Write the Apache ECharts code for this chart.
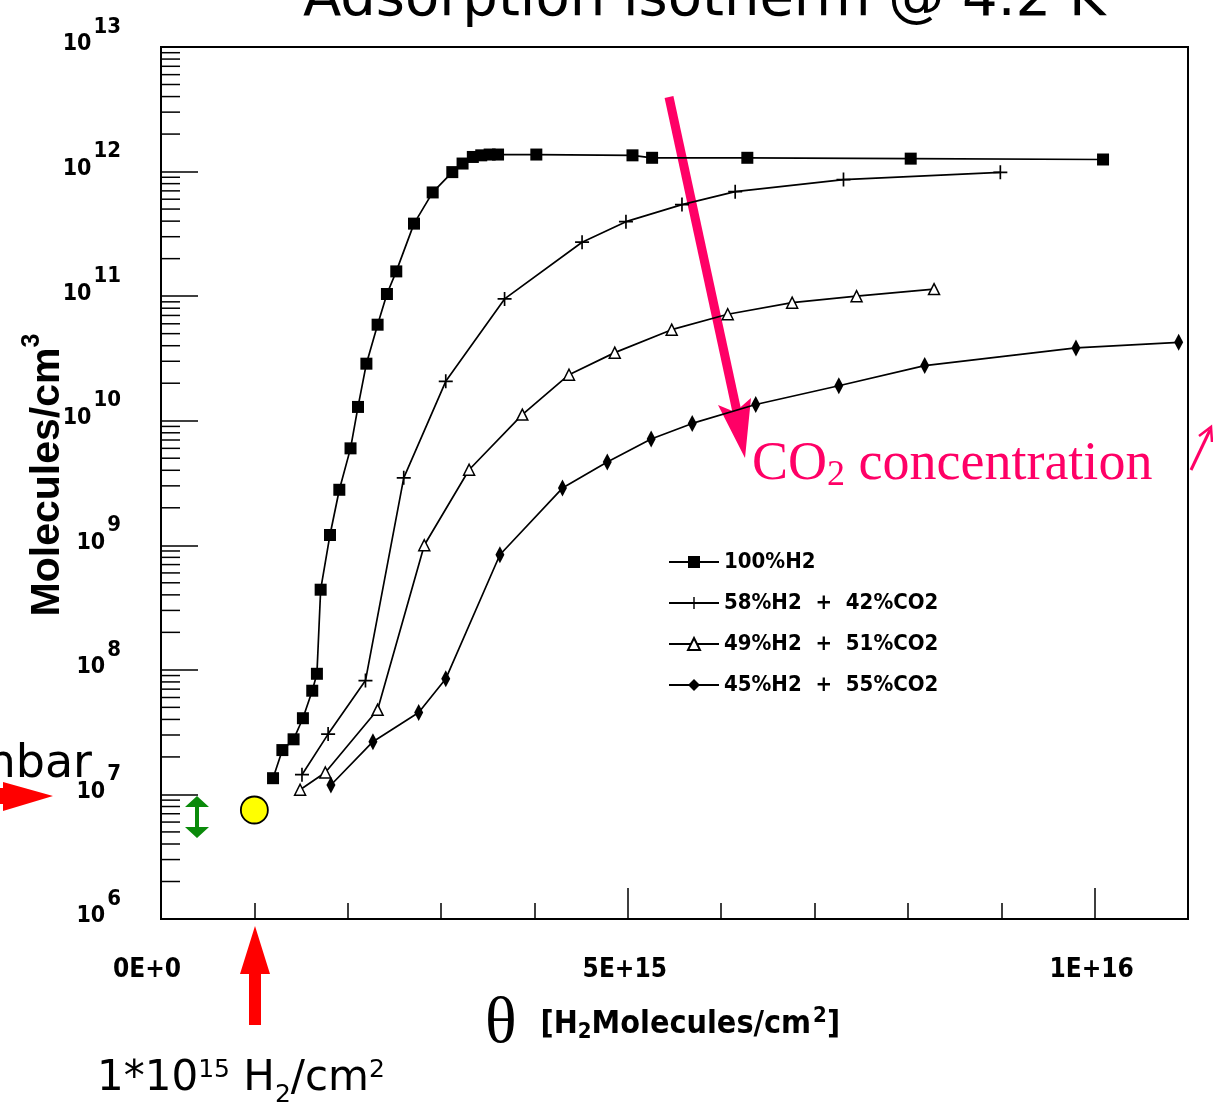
<!DOCTYPE html>
<html>
<head>
<meta charset="utf-8">
<script src="https://cdn.jsdelivr.net/npm/echarts@6/dist/echarts.min.js"></script>
<style>
html,body{margin:0;padding:0;background:#fff;}
#chart{width:1213px;height:1117px;}
</style>
</head>
<body>
<div id="chart"></div>
<script>
var narrow = "'Liberation Sans Narrow','DejaVu Sans Condensed','Liberation Sans',sans-serif";
var pink = '#ff0066';

var seriesNames = ['100%H2', '58%H2 + 42%CO2', '49%H2 + 51%CO2', '45%H2 + 55%CO2'];
var legendTexts = ['100%H2', '58%H2  +  42%CO2', '49%H2  +  51%CO2', '45%H2  +  55%CO2'];

// theta in units of 1E15 H2 molecules/cm2, density in molecules/cm3
var h2_100_x = [1.20,1.30,1.42,1.52,1.62,1.67,1.71,1.81,1.91,2.03,2.11,2.20,2.32,2.42,2.52,2.71,2.91,3.12,3.23,3.34,3.43,3.52,3.61,4.02,5.05,5.26,6.28,8.03,10.09];
var h2_100_y = [1.35e7,2.27e7,2.77e7,4.09e7,6.8e7,9.3e7,4.4e8,1.21e9,2.79e9,6.0e9,1.29e10,2.87e10,5.9e10,1.04e11,1.58e11,3.82e11,6.8e11,9.9e11,1.16e12,1.31e12,1.35e12,1.37e12,1.37e12,1.37e12,1.35e12,1.29e12,1.29e12,1.27e12,1.25e12];

var h2_58_x = [1.51,1.79,2.19,2.60,3.05,3.68,4.51,4.98,5.58,6.15,7.31,8.99];
var h2_58_y = [1.44e7,3.05e7,8.2e7,3.48e9,2.07e10,9.5e10,2.71e11,3.96e11,5.43e11,6.9e11,8.63e11,9.86e11];

var h2_49_x = [1.49,1.76,2.32,2.82,3.30,3.87,4.37,4.86,5.47,6.07,6.76,7.45,8.28];
var h2_49_y = [1.09e7,1.50e7,4.78e7,1.00e9,4.04e9,1.12e10,2.34e10,3.52e10,5.38e10,7.16e10,8.87e10,1.00e11,1.14e11];

var h2_45_x = [1.82,2.27,2.76,3.05,3.63,4.30,4.78,5.25,5.69,6.37,7.26,8.18,9.80,10.90];
var h2_45_y = [1.19e7,2.65e7,4.54e7,8.47e7,8.39e8,2.88e9,4.66e9,7.13e9,9.51e9,1.35e10,1.91e10,2.77e10,3.84e10,4.26e10];

// the 1 mbar point
var markX = [1.0];
var markY = [7.5e6];

var xTickValues = [0, 5, 10];
var xTickLabels = ['0E+0', '5E+15', '1E+16'];
var decadeStarts = [1e6, 1e7, 1e8, 1e9, 1e10, 1e11, 1e12];
var minorSteps = [2, 3, 4, 5, 6, 7, 8, 9];

function zip(xs, ys){
	var out = [];
	for(var i = 0; i < xs.length; i++){
		out.push([xs[i], ys[i]]);
	}
	return out;
}

var minorTickData = [];
for(var d = 0; d < decadeStarts.length; d++){
	for(var m = 0; m < minorSteps.length; m++){
		minorTickData.push([0, decadeStarts[d] * minorSteps[m]]);
	}
}

var plusPath = 'path://M4.4,0H5.6V4.4H10V5.6H5.6V10H4.4V5.6H0V4.4H4.4Z';

function lineSeries(name, data, symbol, size, fill){
	return {
		name: name,
		type: 'line',
		data: data,
		symbol: symbol,
		symbolSize: size,
		showSymbol: true,
		lineStyle: {color: '#000', width: 1.7},
		itemStyle: {color: fill, borderColor: '#000', borderWidth: fill == '#fff' ? 1.5 : 0},
		z: 3
	};
}

var tickFont = {fontFamily: narrow, fontWeight: 'bold', fontSize: 26, color: '#000'};

var mychart = echarts.init(document.getElementById('chart'));
var option = {
	animation: false,
	backgroundColor: '#fff',
	grid: {
		left: 161, top: 47, right: 25, bottom: 198,
		containLabel: false, outerBoundsMode: 'none',
		show: true, borderColor: '#000', borderWidth: 2
	},
	legend: {
		orient: 'vertical',
		left: 663, top: 545,
		itemWidth: 50, itemHeight: 15, itemGap: 17,
		data: seriesNames,
		formatter: function(name){ return legendTexts[seriesNames.indexOf(name)]; },
		textStyle: {fontFamily: narrow, fontWeight: 'bold', fontSize: 22, color: '#000', lineHeight: 24}
	},
	xAxis: [{
		type: 'value', min: 0, max: 11, interval: 5,
		position: 'bottom',
		axisLine: {show: true, lineStyle: {color: '#000', width: 2}},
		axisTick: {show: true, inside: true, length: 31, lineStyle: {color: '#000', width: 1.5}},
		splitLine: {show: false},
		axisLabel: {
			margin: 38,
			formatter: function(v){
				var i = xTickValues.indexOf(v);
				if(i < 0) return '';
				return (i == 0 ? '{l|' : '{n|') + xTickLabels[i] + '}';
			},
			rich: {
				l: Object.assign({padding: [0, 28, 0, 0]}, tickFont),
				n: Object.assign({padding: [0, 6, 0, 0]}, tickFont)
			}
		},
		name: '{t|θ}{g|}{b|[H}{sub|2}{b|Molecules/cm}{sup|2}{b|]}',
		nameLocation: 'middle',
		nameGap: 74,
		nameMoveOverlap: false,
		nameTextStyle: {
			padding: [0, 24, 0, 0],
			rich: {
				t: {fontFamily: "'Liberation Serif',serif", fontSize: 66, color: '#000', lineHeight: 64},
				g: {width: 24},
				b: {fontFamily: narrow, fontWeight: 'bold', fontSize: 32, color: '#000', lineHeight: 64},
				sub: {fontFamily: narrow, fontWeight: 'bold', fontSize: 22, color: '#000', verticalAlign: 'bottom', padding: [0, 0, 14, 0]},
				sup: {fontFamily: narrow, fontWeight: 'bold', fontSize: 22, color: '#000', verticalAlign: 'top', padding: [12, 0, 0, 2]}
			}
		}
	}, {
		type: 'value', min: 0, max: 11, interval: 1,
		position: 'bottom',
		axisLine: {show: false},
		axisTick: {show: true, inside: true, length: 16, lineStyle: {color: '#000', width: 1.5}},
		axisLabel: {show: false},
		splitLine: {show: false}
	}],
	yAxis: {
		type: 'log', logBase: 10, min: 1e6, max: 1e13, splitNumber: 7,
		axisLine: {show: true, lineStyle: {color: '#000', width: 2}},
		axisTick: {show: true, inside: true, length: 37, lineStyle: {color: '#000', width: 1.5}},
		splitLine: {show: false},
		axisLabel: {
			margin: 40,
			padding: [0, 0, 22, 0],
			formatter: function(v){
				var e = Math.round(Math.log(v) / Math.LN10);
				return '{b|10}{s|' + e + '}';
			},
			rich: {
				b: {fontFamily: narrow, fontWeight: 'bold', fontSize: 23, color: '#000', lineHeight: 40, verticalAlign: 'bottom'},
				s: {fontFamily: narrow, fontWeight: 'bold', fontSize: 22, color: '#000', lineHeight: 4, verticalAlign: 'top', padding: [0, 0, 0, 2]}
			}
		},
		name: '{a|Molecules/cm}{s|3}',
		nameLocation: 'middle',
		nameRotate: 90,
		nameGap: 93,
		nameMoveOverlap: false,
		nameTextStyle: {
			padding: [0, 0, 0, 16],
			rich: {
				a: {fontFamily: "'Liberation Sans',sans-serif", fontWeight: 'bold', fontSize: 41, color: '#000', lineHeight: 48, verticalAlign: 'bottom'},
				s: {fontFamily: "'Liberation Sans',sans-serif", fontWeight: 'bold', fontSize: 25, color: '#000', lineHeight: 34, verticalAlign: 'top'}
			}
		}
	},
	series: [
		lineSeries(seriesNames[0], zip(h2_100_x, h2_100_y), 'rect', 12, '#000'),
		lineSeries(seriesNames[1], zip(h2_58_x, h2_58_y), plusPath, 14, '#000'),
		lineSeries(seriesNames[2], zip(h2_49_x, h2_49_y), 'triangle', 11, '#fff'),
		lineSeries(seriesNames[3], zip(h2_45_x, h2_45_y), 'diamond', [9, 17], '#000'),
		{
			name: 'minor',
			type: 'custom',
			silent: true,
			clip: false,
			data: minorTickData,
			renderItem: function(params, api){
				var p = api.coord([0, api.value(1)]);
				return {
					type: 'line',
					shape: {x1: p[0], y1: p[1], x2: p[0] + 19, y2: p[1]},
					style: {stroke: '#000', lineWidth: 1.5}
				};
			},
			z: 2
		},
		{
			name: 'mbar',
			type: 'scatter',
			data: zip(markX, markY),
			symbol: 'circle',
			symbolSize: 27,
			itemStyle: {color: '#ffff00', borderColor: '#000', borderWidth: 1.8, opacity: 1},
			z: 6
		}
	],
	graphic: [
		{type: 'text', left: 303, top: -28, silent: true,
			style: {text: 'Adsorption isotherm @ 4.2 K', font: "56px 'DejaVu Sans'", fill: '#000'}},
		{type: 'text', silent: true,
			style: {text: 'mbar', x: 92, y: 788, align: 'right', verticalAlign: 'bottom', font: "46px 'DejaVu Sans'", fill: '#000'}},
		// left red arrow
		{type: 'polygon', silent: true,
			shape: {points: [[-10, 788], [3, 788], [3, 782], [53, 796], [3, 811], [3, 804], [-10, 804]]},
			style: {fill: '#ff0000'}},
		// bottom red arrow
		{type: 'polygon', silent: true,
			shape: {points: [[255, 926], [270, 974], [261, 974], [261, 1025], [249, 1025], [249, 974], [240, 974]]},
			style: {fill: '#ff0000'}},
		// green double arrow
		{type: 'polygon', silent: true,
			shape: {points: [[197, 796], [209, 807], [199, 807], [199, 827], [209, 827], [197, 838], [185, 827], [195, 827], [195, 807], [185, 807]]},
			style: {fill: '#0a8a0a'}},
		// pink arrow
		{type: 'line', silent: true,
			shape: {x1: 669, y1: 97, x2: 737, y2: 412},
			style: {stroke: pink, lineWidth: 9}},
		{type: 'polygon', silent: true,
			shape: {points: [[718, 405], [735, 412], [751, 398], [745, 458]]},
			style: {fill: pink}},
		{type: 'text', silent: true,
			style: {
				x: 752, y: 438,
				text: '{a|CO}{s|2}{a| concentration}',
				rich: {
					a: {fontFamily: "'Liberation Serif',serif", fontSize: 54, fill: pink, lineHeight: 52, verticalAlign: 'top'},
					s: {fontFamily: "'Liberation Serif',serif", fontSize: 36, fill: pink, lineHeight: 56, verticalAlign: 'bottom'}
				}
			}},
		{type: 'polyline', silent: true,
			shape: {points: [[1191, 470], [1210, 430]]},
			style: {stroke: pink, lineWidth: 3}},
		{type: 'polyline', silent: true,
			shape: {points: [[1199, 436], [1211, 427], [1212, 442]]},
			style: {stroke: pink, lineWidth: 2.5, fill: null}},
		// bottom note
		{type: 'text', silent: true,
			style: {
				x: 97, y: 1058,
				text: '{a|1*10}{p|15}{a| H}{b|2}{a|/cm}{p|2}',
				rich: {
					a: {fontFamily: "'DejaVu Sans',sans-serif", fontSize: 42, fill: '#000', lineHeight: 50, verticalAlign: 'top'},
					p: {fontFamily: "'DejaVu Sans',sans-serif", fontSize: 25, fill: '#000', lineHeight: 30, verticalAlign: 'top'},
					b: {fontFamily: "'DejaVu Sans',sans-serif", fontSize: 25, fill: '#000', lineHeight: 28, verticalAlign: 'bottom'}
				}
			}}
	]
};
mychart.setOption(option);
</script>
</body>
</html>
